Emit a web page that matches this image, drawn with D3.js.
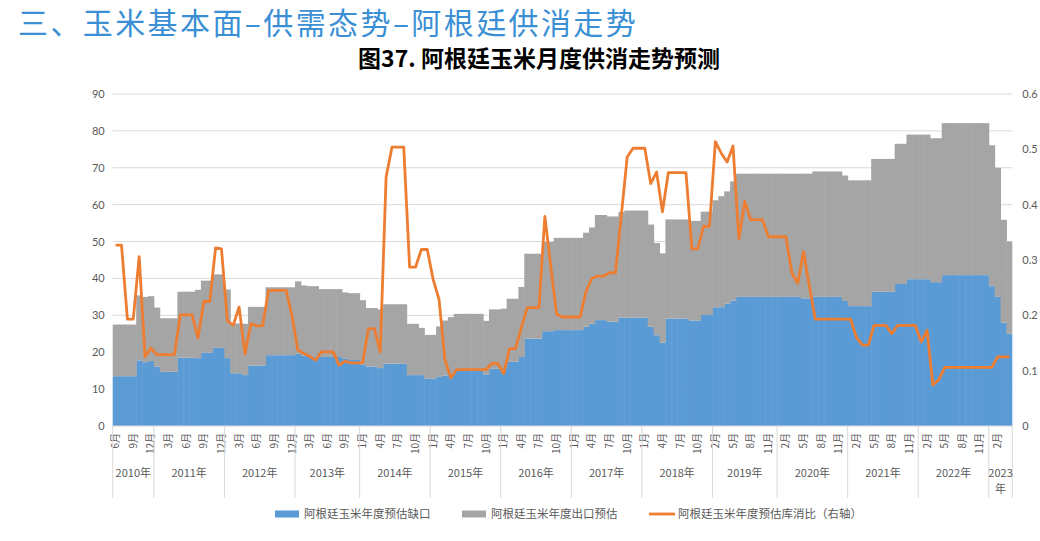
<!DOCTYPE html>
<html>
<head>
<meta charset="utf-8">
<script src="https://cdn.jsdelivr.net/npm/d3@7"></script>
<style>
  body { margin: 0; background: #fff; }
  svg { display: block; font-family: "Noto Sans CJK SC", "Microsoft YaHei", sans-serif; }
</style>
</head>
<body>
<svg id="chart" width="1040" height="541"></svg>
<script>
// [year, first month, last month] shown on the category axis
const yearSpans = [
  [2010, 6, 12], [2011, 1, 12], [2012, 1, 12], [2013, 1, 11], [2014, 1, 12],
  [2015, 1, 12], [2016, 1, 12], [2017, 1, 12], [2018, 1, 12], [2019, 2, 12],
  [2020, 1, 12], [2021, 1, 12], [2022, 1, 12], [2023, 1, 4]
];

// 阿根廷玉米年度预估缺口
const gapValues = [
  13.5, 13.5, 13.5, 13.5, 17.8, 17.3, 17.6,
  16.1, 14.7, 14.7, 14.7, 18.5, 18.5, 18.5, 18.4, 19.9, 19.9, 21.2, 21.2,
  18.4, 14.3, 14.3, 13.8, 16.4, 16.4, 16.4, 19.2, 19.2, 19.2, 19.2, 19.2,
  19.6, 19.1, 18.9, 18.9, 18.7, 18.7, 18.7, 18.7, 18.2, 17.9, 17.9,
  16.7, 16.1, 16.1, 15.7, 16.9, 16.9, 16.9, 16.9, 13.8, 13.8, 13.8, 12.8,
  12.8, 13.3, 13.7, 14.2, 15.4, 15.4, 15.4, 15.4, 15.4, 14.0, 15.5, 15.5,
  15.7, 17.4, 17.4, 18.7, 23.7, 23.7, 23.7, 25.7, 25.7, 26.0, 26.0, 26.0,
  26.0, 26.0, 26.9, 27.7, 28.7, 28.7, 28.3, 28.3, 29.4, 29.4, 29.4, 29.4,
  29.4, 26.9, 24.6, 22.6, 29.1, 29.1, 29.1, 29.1, 28.6, 28.6, 30.1, 30.1,
  32.2, 32.2, 33.2, 34.0, 35.0, 35.0, 35.0, 35.0, 35.0, 35.0, 35.0,
  35.0, 35.0, 35.0, 35.0, 34.6, 34.6, 35.0, 35.0, 35.0, 35.0, 35.0, 33.9,
  32.5, 32.5, 32.5, 32.5, 36.4, 36.4, 36.4, 36.4, 38.5, 38.5, 39.8, 39.8,
  39.8, 39.8, 39.0, 39.0, 40.9, 40.9, 40.9, 40.9, 40.9, 40.9, 40.9, 40.9,
  37.9, 35.0, 28.0, 25.0
];

// 阿根廷玉米年度出口预估
const exportValues = [
  14.0, 14.0, 14.0, 14.0, 17.6, 17.7, 17.6,
  16.0, 14.5, 14.5, 14.5, 17.9, 17.9, 17.9, 18.5, 19.5, 19.5, 19.9, 19.9,
  18.6, 13.5, 13.5, 13.9, 15.9, 15.9, 15.9, 18.4, 18.4, 18.4, 18.4, 18.4,
  19.6, 19.0, 19.0, 19.0, 18.4, 18.4, 18.4, 18.4, 18.0, 18.1, 18.1,
  17.4, 15.9, 15.9, 15.9, 16.1, 16.1, 16.1, 16.1, 13.9, 13.9, 12.8, 11.9,
  11.9, 13.7, 14.9, 15.3, 15.0, 15.0, 15.0, 15.0, 15.0, 14.5, 16.1, 16.1,
  16.1, 17.1, 17.1, 19.0, 23.0, 23.0, 23.0, 24.2, 24.2, 25.0, 25.0, 25.0,
  25.0, 25.0, 25.5, 26.1, 28.5, 28.5, 28.5, 28.5, 28.6, 29.0, 29.0, 29.0,
  29.0, 27.7, 25.0, 24.2, 26.9, 26.9, 26.9, 26.9, 27.0, 27.0, 28.0, 28.0,
  29.0, 30.1, 30.4, 32.3, 33.4, 33.4, 33.4, 33.4, 33.4, 33.4, 33.4,
  33.4, 33.4, 33.4, 33.4, 33.8, 33.8, 34.0, 34.0, 34.0, 34.0, 34.0, 34.0,
  34.1, 34.1, 34.1, 34.1, 36.0, 36.0, 36.0, 36.0, 38.0, 38.0, 39.2, 39.2,
  39.2, 39.2, 39.0, 39.0, 41.2, 41.2, 41.2, 41.2, 41.2, 41.2, 41.2, 41.2,
  38.2, 35.0, 27.9, 25.0
];

// 阿根廷玉米年度预估库消比（右轴）
const ratioValues = [
  0.327, 0.327, 0.193, 0.193, 0.306, 0.125, 0.141,
  0.129, 0.129, 0.129, 0.129, 0.201, 0.201, 0.201, 0.159, 0.225, 0.225, 0.322, 0.320,
  0.190, 0.182, 0.215, 0.130, 0.185, 0.181, 0.181, 0.245, 0.245, 0.245, 0.245, 0.199,
  0.137, 0.131, 0.126, 0.119, 0.134, 0.134, 0.134, 0.110, 0.117, 0.114, 0.114,
  0.114, 0.176, 0.176, 0.134, 0.450, 0.504, 0.504, 0.504, 0.287, 0.287, 0.319, 0.319,
  0.265, 0.229, 0.120, 0.087, 0.102, 0.102, 0.102, 0.102, 0.102, 0.102, 0.113, 0.113,
  0.095, 0.140, 0.140, 0.178, 0.214, 0.214, 0.214, 0.379, 0.289, 0.202, 0.197, 0.197,
  0.197, 0.197, 0.243, 0.267, 0.271, 0.271, 0.277, 0.277, 0.380, 0.486, 0.502, 0.502,
  0.502, 0.438, 0.459, 0.387, 0.458, 0.458, 0.458, 0.458, 0.320, 0.320, 0.361, 0.361,
  0.514, 0.493, 0.477, 0.506, 0.338, 0.406, 0.373, 0.373, 0.373, 0.342, 0.342,
  0.342, 0.342, 0.277, 0.258, 0.315, 0.252, 0.193, 0.193, 0.193, 0.193, 0.193, 0.193,
  0.193, 0.160, 0.146, 0.146, 0.182, 0.182, 0.182, 0.167, 0.182, 0.182, 0.182, 0.182,
  0.152, 0.173, 0.074, 0.084, 0.106, 0.106, 0.106, 0.106, 0.106, 0.106, 0.106, 0.106,
  0.106, 0.125, 0.125, 0.125
];

const leftTicks = [0, 10, 20, 30, 40, 50, 60, 70, 80, 90];
const rightTicks = [0, 0.1, 0.2, 0.3, 0.4, 0.5, 0.6];
const seriesNames = ["阿根廷玉米年度预估缺口", "阿根廷玉米年度出口预估", "阿根廷玉米年度预估库消比（右轴）"];
const headingText = "三、玉米基本面–供需态势–阿根廷供消走势";
const titleText = "图37. 阿根廷玉米月度供消走势预测";

const colors = { gap: "#5B9BD5", exp: "#A5A5A5", ratio: "#ED7D31" };
const labelColor = "#595959";
const gridColor = "#D9D9D9";

// one category per month
const months = [];
yearSpans.forEach(([year, first, last]) => {
  for (let m = first; m <= last; m++) months.push({ year, month: m });
});
const rows = months.map((m, i) => ({ i, gap: gapValues[i], exp: exportValues[i] }));

const svg = d3.select("#chart");
const plot = { left: 112.7, right: 1012.3, top: 94, bottom: 426 };

const x = d3.scaleBand().domain(d3.range(months.length)).range([plot.left, plot.right]).padding(0);
const y = d3.scaleLinear().domain([0, 90]).range([plot.bottom, plot.top]);
const y2 = d3.scaleLinear().domain([0, 0.6]).range([plot.bottom, plot.top]);
const bw = x.bandwidth();

// heading + title
svg.append("text")
  .attr("x", 18).attr("y", 34)
  .attr("fill", "#3B8FD4")
  .style("font-size", "30px")
  .style("letter-spacing", "2.4px")
  .text(headingText);

svg.append("text")
  .attr("x", 539).attr("y", 67)
  .attr("text-anchor", "middle")
  .attr("fill", "#000")
  .style("font-size", "23px")
  .style("font-weight", "bold")
  .text(titleText);

// gridlines
svg.append("g")
  .selectAll("line")
  .data(leftTicks.filter(d => d > 0))
  .join("line")
  .attr("x1", plot.left).attr("x2", plot.right)
  .attr("y1", d => y(d)).attr("y2", d => y(d))
  .attr("stroke", gridColor).attr("stroke-width", 1);

// stacked columns (no gap between months)
const stacked = d3.stack().keys(["gap", "exp"])(rows);
svg.append("g")
  .selectAll("g")
  .data(stacked)
  .join("g")
  .attr("fill", d => colors[d.key])
  .selectAll("rect")
  .data(d => d)
  .join("rect")
  .attr("x", d => x(d.data.i))
  .attr("width", d => d.data.i === months.length - 1 ? bw : bw + 0.5)
  .attr("y", d => y(d[1]))
  .attr("height", d => y(d[0]) - y(d[1]));

// category axis line
svg.append("line")
  .attr("x1", plot.left).attr("x2", plot.right)
  .attr("y1", plot.bottom).attr("y2", plot.bottom)
  .attr("stroke", gridColor);

// ratio line on right axis
const line = d3.line()
  .x((d, i) => x(i) + bw / 2)
  .y(d => y2(d));
svg.append("path")
  .datum(ratioValues)
  .attr("fill", "none")
  .attr("stroke", colors.ratio)
  .attr("stroke-width", 2.8)
  .attr("stroke-linejoin", "round")
  .attr("d", line);

// left axis
const leftAxis = svg.append("g")
  .attr("transform", `translate(${plot.left - 8},0)`)
  .call(d3.axisLeft(y).tickValues(leftTicks).tickSize(0).tickPadding(0));
leftAxis.select(".domain").remove();
leftAxis.selectAll("text")
  .attr("fill", labelColor)
  .style("font-size", "11px")
  .style("font-family", "Lato, 'Noto Sans', sans-serif");

// right axis
const rightAxis = svg.append("g")
  .attr("transform", `translate(${plot.right + 10},0)`)
  .call(d3.axisRight(y2).tickValues(rightTicks).tickSize(0).tickPadding(0).tickFormat(d => d === 0 ? "0" : d3.format(".1f")(d)));
rightAxis.select(".domain").remove();
rightAxis.selectAll("text")
  .attr("fill", labelColor)
  .style("font-size", "11px")
  .style("font-family", "Lato, 'Noto Sans', sans-serif");

// month labels, every third category, rotated
svg.append("g")
  .selectAll("text")
  .data(months.map((m, i) => ({ ...m, i })).filter(d => d.i % 3 === 0))
  .join("text")
  .attr("transform", d => `translate(${x(d.i) + bw / 2},433) rotate(-90)`)
  .attr("text-anchor", "end")
  .attr("dy", "0.35em")
  .attr("fill", labelColor)
  .style("font-size", "10px")
  .text(d => d.month + "月");

// year groups
const spans = yearSpans.map(([year]) => {
  const idx = d3.range(months.length).filter(i => months[i].year === year);
  return { year, x0: x(idx[0]), x1: x(idx[idx.length - 1]) + bw };
});

svg.append("g")
  .selectAll("line")
  .data(spans.map(s => s.x0).concat([plot.right]))
  .join("line")
  .attr("x1", d => d).attr("x2", d => d)
  .attr("y1", plot.bottom).attr("y2", 498)
  .attr("stroke", gridColor);

const yearText = svg.append("g")
  .selectAll("text")
  .data(spans)
  .join("text")
  .attr("x", d => (d.x0 + d.x1) / 2)
  .attr("y", 477)
  .attr("text-anchor", "middle")
  .attr("fill", labelColor)
  .style("font-size", "11px");
yearText.each(function (d) {
  const t = d3.select(this);
  if (d.x1 - d.x0 < 40) {
    t.append("tspan").attr("x", (d.x0 + d.x1) / 2).text(d.year);
    t.append("tspan").attr("x", (d.x0 + d.x1) / 2).attr("dy", 16).text("年");
  } else {
    t.text(d.year + "年");
  }
});

// legend
const legend = svg.append("g").attr("transform", "translate(0,514)");
const legendItems = [
  { name: seriesNames[0], color: colors.gap, type: "rect", x: 275 },
  { name: seriesNames[1], color: colors.exp, type: "rect", x: 462 },
  { name: seriesNames[2], color: colors.ratio, type: "line", x: 649 }
];
legendItems.forEach(it => {
  if (it.type === "rect") {
    legend.append("rect").attr("x", it.x).attr("y", -3.5).attr("width", 24).attr("height", 7).attr("fill", it.color);
  } else {
    legend.append("line").attr("x1", it.x).attr("x2", it.x + 26).attr("y1", 0).attr("y2", 0)
      .attr("stroke", it.color).attr("stroke-width", 2.8);
  }
  legend.append("text")
    .attr("x", it.x + 29).attr("y", 4)
    .attr("fill", labelColor)
    .style("font-size", "11.5px")
    .text(it.name);
});
</script>
</body>
</html>
